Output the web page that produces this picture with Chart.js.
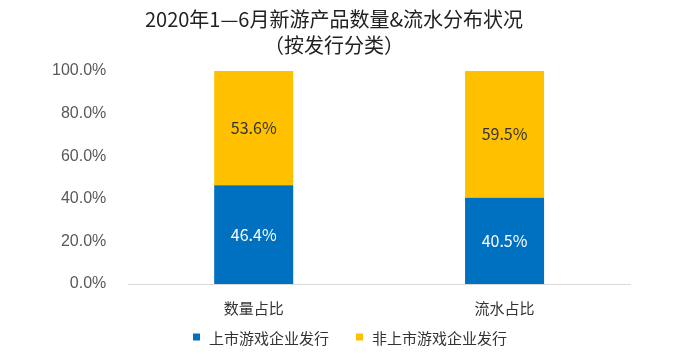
<!DOCTYPE html>
<html>
<head>
<meta charset="utf-8">
<script src="https://cdn.jsdelivr.net/npm/chart.js@4/dist/chart.umd.min.js"></script>
<style>
  html, body { margin: 0; padding: 0; background: #fff; }
  #wrap { width: 700px; height: 358px; }
</style>
</head>
<body>
<div id="wrap"><canvas id="grafico"></canvas></div>
<script>
const categorias = ["数量占比", "流水占比"];
const listados = [46.4, 40.5];
const naoListados = [53.6, 59.5];
const ticksY = [0, 20, 40, 60, 80, 100];

const fonteCJK = '"Noto Sans CJK SC", "Noto Sans", sans-serif';

// rótulos dentro das barras
const rotulosBarras = {
    id: 'rotulosBarras',
    afterDatasetsDraw(chart) {
        const ctx = chart.ctx;
        ctx.save();
        ctx.font = '16px ' + fonteCJK;
        ctx.textAlign = 'center';
        ctx.textBaseline = 'middle';
        chart.data.datasets.forEach((ds, i) => {
            const meta = chart.getDatasetMeta(i);
            meta.data.forEach((bar, j) => {
                const y = (bar.y + bar.base) / 2;
                ctx.fillStyle = ds.corRotulo;
                ctx.fillText(ds.data[j].toFixed(1) + '%', bar.x, y);
            });
        });
        ctx.restore();
    }
};

// legenda desenhada à mão (espaçamento igual ao original)
const legendaManual = {
    id: 'legendaManual',
    afterDraw(chart) {
        const ctx = chart.ctx;
        const caixa = 7, gapTexto = 9, gapItem = 27;
        const yCentro = 338;
        ctx.save();
        ctx.font = '15px ' + fonteCJK;
        ctx.textBaseline = 'middle';
        const itens = chart.data.datasets.map(ds => ({
            texto: ds.label,
            cor: ds.backgroundColor,
            largura: caixa + gapTexto + ctx.measureText(ds.label).width
        }));
        const total = itens.reduce((s, it) => s + it.largura, 0) + gapItem * (itens.length - 1);
        let x = (chart.width - total) / 2;
        itens.forEach(it => {
            ctx.fillStyle = it.cor;
            ctx.fillRect(x, yCentro - caixa / 2 - 1, caixa, caixa);
            ctx.fillStyle = '#333';
            ctx.fillText(it.texto, x + caixa + gapTexto, yCentro);
            x += it.largura + gapItem;
        });
        ctx.restore();
    }
};

const ctx = document.getElementById('grafico').getContext('2d');
new Chart(ctx, {
    type: 'bar',
    data: {
        labels: categorias,
        datasets: [{
            label: '上市游戏企业发行',
            data: listados,
            backgroundColor: '#0070C0',
            corRotulo: '#ffffff'
        }, {
            label: '非上市游戏企业发行',
            data: naoListados,
            backgroundColor: '#FFC000',
            corRotulo: '#333333'
        }]
    },
    options: {
        responsive: true,
        maintainAspectRatio: false,
        animation: false,
        layout: { padding: { left: 38, right: 70, top: 2, bottom: 34 } },
        datasets: {
            bar: { barPercentage: 0.63, categoryPercentage: 0.5 }
        },
        plugins: {
            title: {
                display: true,
                text: ['2020年1—6月新游产品数量&流水分布状况', '（按发行分类）'],
                color: '#222',
                font: { family: fonteCJK, size: 20, weight: 'normal', lineHeight: 1.3 },
                padding: { top: 4, bottom: 13 }
            },
            legend: { display: false },
            tooltip: { enabled: false }
        },
        scales: {
            x: {
                stacked: true,
                grid: { display: false },
                border: { color: '#d9d9d9', width: 1 },
                ticks: {
                    color: '#333',
                    font: { family: fonteCJK, size: 15 },
                    padding: 7
                }
            },
            y: {
                stacked: true,
                min: 0,
                max: 100,
                afterBuildTicks: axis => { axis.ticks = ticksY.map(v => ({ value: v })); },
                grid: { display: false },
                border: { display: false },
                ticks: {
                    color: '#595959',
                    font: { family: '"Liberation Sans", Arial, sans-serif', size: 16 },
                    padding: 14,
                    callback: v => v.toFixed(1) + '%'
                }
            }
        }
    },
    plugins: [rotulosBarras, legendaManual]
});
</script>
</body>
</html>
